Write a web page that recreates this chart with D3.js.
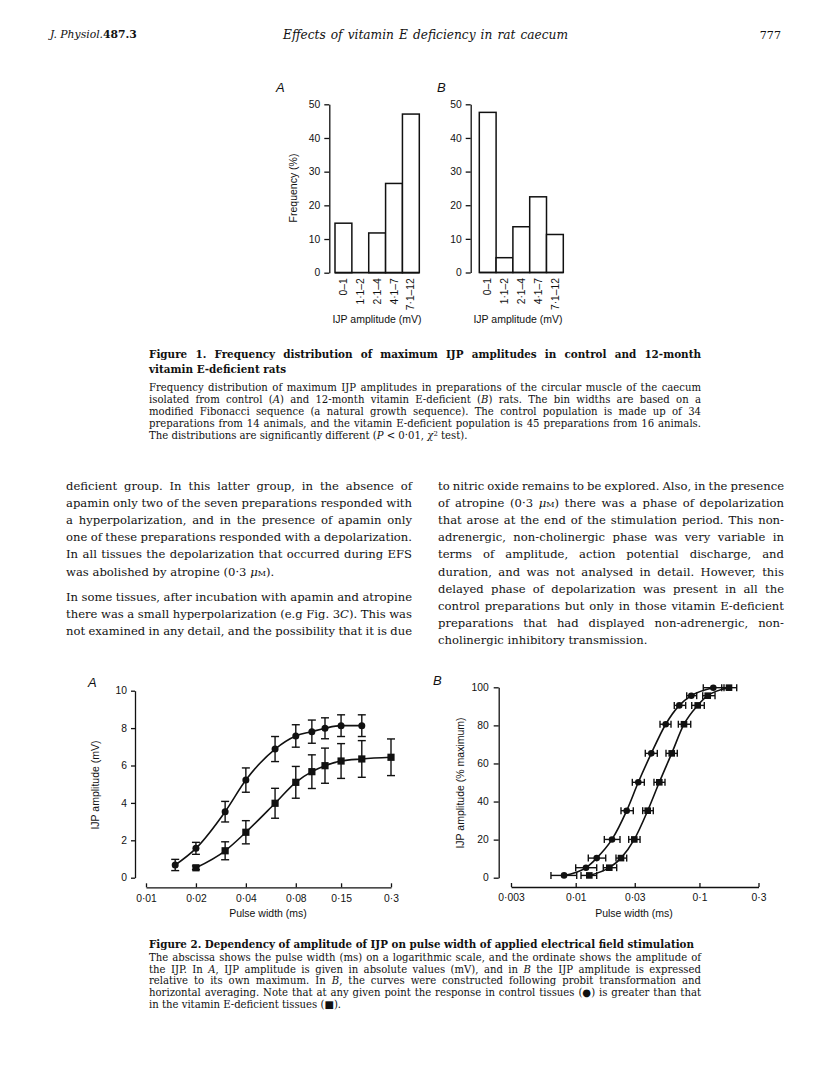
<!DOCTYPE html>
<html><head><meta charset="utf-8">
<script src="https://cdn.jsdelivr.net/npm/d3@7"></script>
<style>
html,body{margin:0;padding:0;background:#fff;}
#page{position:relative;width:816px;height:1088px;overflow:hidden;background:#fff;}
#page svg{position:absolute;left:0;top:0;}
.ln{position:absolute;white-space:nowrap;line-height:1;color:#111;font-family:"DejaVu Serif",serif;}
.ln sup{font-size:0.68em;vertical-align:0.5em;line-height:0;}
.sc{font-variant:small-caps;}
.ax text{font-family:"Liberation Sans",Arial,sans-serif;font-size:10.3px;fill:#111;}
.ax path,.ax line{stroke:#111;stroke-width:1.3;}
.lbl{font-family:"Liberation Sans",Arial,sans-serif;fill:#111;}
</style></head><body><div id="page"></div>
<script>
// ---------------- data ----------------
const fig1Bins = ["0–1","1·1–2","2·1–4","4·1–7","7·1–12"];
const fig1Control = [14.7, 0, 11.8, 26.5, 47.1];
const fig1Deficient = [47.6, 4.4, 13.6, 22.5, 11.3];
const fig1YTicks = [0, 10, 20, 30, 40, 50];

const fig2AControlPulse = [0.015, 0.02, 0.03, 0.04, 0.06, 0.08, 0.1, 0.12, 0.15, 0.2];
const fig2AControlAmp   = [0.68, 1.57, 3.53, 5.22, 6.88, 7.58, 7.81, 7.99, 8.13, 8.13];
const fig2AControlErr   = [0.30, 0.32, 0.55, 0.65, 0.67, 0.60, 0.62, 0.56, 0.58, 0.58];
const fig2ADefPulse = [0.02, 0.03, 0.04, 0.06, 0.08, 0.1, 0.12, 0.15, 0.2, 0.3];
const fig2ADefAmp   = [0.53, 1.44, 2.43, 3.98, 5.10, 5.67, 5.99, 6.24, 6.35, 6.44];
const fig2ADefErr   = [0.10, 0.48, 0.62, 0.80, 0.85, 0.90, 0.94, 0.93, 0.98, 0.98];
const fig2AXTicks = [0.01, 0.02, 0.04, 0.08, 0.15, 0.3];
const fig2AXLabels = ["0·01","0·02","0·04","0·08","0·15","0·3"];
const fig2AYTicks = [0, 2, 4, 6, 8, 10];

const fig2BAmp = [1.2, 5.25, 10.3, 20.1, 35.2, 50.1, 65.3, 80.6, 90.5, 95.6, 99.8];
const fig2BControlPulse = [0.00805, 0.01211, 0.01478, 0.01965, 0.02582, 0.03205, 0.04083, 0.05337, 0.06873, 0.0859, 0.1294];
const fig2BControlLo    = [0.00631, 0.0100, 0.01264, 0.01703, 0.02323, 0.02867, 0.0365, 0.0480, 0.0626, 0.0789, 0.1074];
const fig2BControlHi    = [0.01019, 0.01478, 0.01748, 0.0228, 0.0292, 0.03585, 0.04564, 0.0589, 0.0774, 0.0950, 0.1579];
const fig2BDefPulse = [0.01288, 0.01868, 0.02323, 0.02975, 0.03817, 0.04737, 0.05967, 0.0750, 0.0968, 0.1166, 0.1733];
const fig2BDefLo    = [0.01104, 0.01671, 0.02116, 0.0268, 0.03477, 0.0429, 0.05366, 0.0675, 0.0866, 0.1062, 0.1513];
const fig2BDefHi    = [0.01478, 0.02144, 0.02582, 0.0331, 0.04236, 0.05266, 0.0662, 0.0850, 0.1094, 0.1336, 0.2000];
const fig2BXTicks = [0.003, 0.01, 0.03, 0.1, 0.3];
const fig2BXLabels = ["0·003","0·01","0·03","0·1","0·3"];
const fig2BYTicks = [0, 20, 40, 60, 80, 100];

// ---------------- text ----------------
const fig1CaptionTitle = ["Figure 1. Frequency distribution of maximum IJP amplitudes in control and 12-month",
  "vitamin E-deficient rats"];
const fig1CaptionBody = [
  "Frequency distribution of maximum IJP amplitudes in preparations of the circular muscle of the caecum",
  "isolated from control (<i>A</i>) and 12-month vitamin E-deficient (<i>B</i>) rats. The bin widths are based on a",
  "modified Fibonacci sequence (a natural growth sequence). The control population is made up of 34",
  "preparations from 14 animals, and the vitamin E-deficient population is 45 preparations from 16 animals.",
  "The distributions are significantly different (<i>P</i> &lt; 0·01, <i>χ</i><sup>2</sup> test)."];
const leftCol1 = [
  "deficient group. In this latter group, in the absence of",
  "apamin only two of the seven preparations responded with",
  "a hyperpolarization, and in the presence of apamin only",
  "one of these preparations responded with a depolarization.",
  "In all tissues the depolarization that occurred during EFS",
  "was abolished by atropine (0·3 <i>μ</i><span class=\"sc\">m</span>)."];
const leftCol2 = [
  "In some tissues, after incubation with apamin and atropine",
  "there was a small hyperpolarization (e.g Fig. 3<i>C</i>). This was",
  "not examined in any detail, and the possibility that it is due"];
const rightCol = [
  "to nitric oxide remains to be explored. Also, in the presence",
  "of atropine (0·3 <i>μ</i><span class=\"sc\">m</span>) there was a phase of depolarization",
  "that arose at the end of the stimulation period. This non-",
  "adrenergic, non-cholinergic phase was very variable in",
  "terms of amplitude, action potential discharge, and",
  "duration, and was not analysed in detail. However, this",
  "delayed phase of depolarization was present in all the",
  "control preparations but only in those vitamin E-deficient",
  "preparations that had displayed non-adrenergic, non-",
  "cholinergic inhibitory transmission."];
const fig2CaptionTitle = "Figure 2. Dependency of amplitude of IJP on pulse width of applied electrical field stimulation";
const fig2CaptionBody = [
  "The abscissa shows the pulse width (ms) on a logarithmic scale, and the ordinate shows the amplitude of",
  "the IJP. In <i>A</i>, IJP amplitude is given in absolute values (mV), and in <i>B</i> the IJP amplitude is expressed",
  "relative to its own maximum. In <i>B</i>, the curves were constructed following probit transformation and",
  "horizontal averaging. Note that at any given point the response in control tissues (●) is greater than that",
  "in the vitamin E-deficient tissues (■)."];

// ---------------- page ----------------
const page = d3.select('#page');
const svg = page.append('svg').attr('width', 816).attr('height', 1088);
const INK = '#111';

function textLine(html, o) {
  const fs = o.fs || 11;
  const d = page.append('div').attr('class', 'ln')
    .style('font-size', fs + 'px')
    .style('font-weight', o.bold ? 'bold' : 'normal')
    .style('font-style', o.italic ? 'italic' : 'normal')
    .html(html);
  d.style('top', (o.baseline - 0.846 * fs) + 'px');
  const w = d.node().getBoundingClientRect().width;
  let left = o.x;
  if (o.align === 'justify') {
    const n = (d.node().textContent.match(/ /g) || []).length;
    if (n > 0) d.style('word-spacing', ((o.width - w) / n) + 'px');
  } else if (o.align === 'center') {
    left = o.x - w / 2;
  } else if (o.align === 'right') {
    left = o.x - w;
  }
  d.style('left', left + 'px');
  return d;
}

// header
textLine('<i>J. Physiol.</i><b>487.3</b>', {x: 50, baseline: 39, fs: 10.8});
textLine('Effects of vitamin E deficiency in rat caecum', {x: 283, baseline: 39, fs: 12.2, italic: true, align: 'justify', width: 285});
textLine('777', {x: 781, baseline: 39, fs: 11.2, align: 'right'});

// ---------------- Figure 1 ----------------
function fig1Panel(values, cfg) {
  const x = d3.scaleBand().domain(fig1Bins).range([cfg.x0, cfg.x1]).padding(0);
  const y = d3.scaleLinear().domain([0, 50]).range([cfg.yBottom, cfg.yTop]);
  const g = svg.append('g');
  g.selectAll('rect.bar').data(values).join('rect').attr('class', 'bar')
    .attr('x', (d, i) => x(fig1Bins[i])).attr('y', d => y(d))
    .attr('width', x.bandwidth()).attr('height', d => y(0) - y(d))
    .attr('fill', '#fff').attr('stroke', INK).attr('stroke-width', 1.5);
  g.append('line').attr('x1', cfg.x0).attr('x2', cfg.x1).attr('y1', y(0)).attr('y2', y(0))
    .attr('stroke', INK).attr('stroke-width', 1.7);
  g.append('g').attr('class', 'ax').attr('transform', `translate(${cfg.axisX},0)`)
    .call(d3.axisLeft(y).tickValues(fig1YTicks).tickSize(5).tickPadding(4).tickSizeOuter(0));
  g.selectAll('text.bin').data(fig1Bins).join('text').attr('class', 'lbl bin')
    .attr('transform', d => `translate(${x(d) + x.bandwidth() / 2},${y(0) + 5.5}) rotate(-90)`)
    .attr('text-anchor', 'end').attr('dy', '0.35em').style('font-size', '10.3px').text(d => d);
  g.append('text').attr('class', 'lbl').attr('x', cfg.titleX).attr('y', 322.5)
    .attr('text-anchor', 'middle').style('font-size', '10.5px').text('IJP amplitude (mV)');
  g.append('text').attr('class', 'lbl').attr('x', cfg.letterX).attr('y', 91.5)
    .style('font-size', '13px').style('font-style', 'italic').text(cfg.letter);
  if (cfg.yTitle) {
    g.append('text').attr('class', 'lbl')
      .attr('transform', `translate(293,188) rotate(-90)`).attr('dy', '0.35em')
      .attr('text-anchor', 'middle').style('font-size', '10.5px').text(cfg.yTitle);
  }
}
fig1Panel(fig1Control, {x0: 335, x1: 419.3, yTop: 104.3, yBottom: 272.7, axisX: 329.3, titleX: 377, letterX: 276, letter: 'A', yTitle: 'Frequency (%)'});
fig1Panel(fig1Deficient, {x0: 479.3, x1: 563.3, yTop: 104.3, yBottom: 272.5, axisX: 470.7, titleX: 518, letterX: 437, letter: 'B'});

// Figure 1 caption
textLine(fig1CaptionTitle[0], {x: 149, baseline: 358, fs: 10.4, bold: true, align: 'justify', width: 552});
textLine(fig1CaptionTitle[1], {x: 149, baseline: 373, fs: 10.4, bold: true});
fig1CaptionBody.forEach((t, i) => {
  const last = i === fig1CaptionBody.length - 1;
  textLine(t, {x: 149, baseline: 391.5 + i * 12, fs: 10.1, align: last ? 'left' : 'justify', width: 552});
});

// Body text
const BODY_FS = 11.6;
leftCol1.forEach((t, i) => {
  const last = i === leftCol1.length - 1;
  textLine(t, {x: 66, baseline: 490.5 + i * 17.2, fs: BODY_FS, align: last ? 'left' : 'justify', width: 346});
});
leftCol2.forEach((t, i) => {
  textLine(t, {x: 66, baseline: 601.5 + i * 17.2, fs: BODY_FS, align: 'justify', width: 346});
});
rightCol.forEach((t, i) => {
  const last = i === rightCol.length - 1;
  textLine(t, {x: 438, baseline: 490.5 + i * 17.2, fs: BODY_FS, align: last ? 'left' : 'justify', width: 346});
});

// ---------------- Figure 2 ----------------
function square(g, cx, cy, s) {
  g.append('rect').attr('x', cx - s / 2).attr('y', cy - s / 2).attr('width', s).attr('height', s).attr('fill', INK);
}

// Panel A
(function () {
  const x = d3.scaleLog().domain([0.01, 0.3]).range([146, 391]);
  const y = d3.scaleLinear().domain([0, 10]).range([877.7, 690.7]);
  const g = svg.append('g');
  g.append('g').attr('class', 'ax').attr('transform', 'translate(135,0)')
    .call(d3.axisLeft(y).tickValues(fig2AYTicks).tickFormat(d3.format('d')).tickSize(4).tickPadding(4).tickSizeOuter(0));
  g.append('g').attr('class', 'ax').attr('transform', 'translate(0,887.3)')
    .call(d3.axisBottom(x).tickValues(fig2AXTicks).tickFormat((d, i) => fig2AXLabels[i]).tickSizeInner(-4).tickSizeOuter(0).tickPadding(7));
  const line = d3.line().curve(d3.curveMonotoneX).x(d => x(d[0])).y(d => y(d[1]));
  const series = [
    {px: fig2AControlPulse, amp: fig2AControlAmp, err: fig2AControlErr, shape: 'c'},
    {px: fig2ADefPulse, amp: fig2ADefAmp, err: fig2ADefErr, shape: 's'}];
  series.forEach(s => {
    const pts = s.px.map((p, i) => [p, s.amp[i]]);
    g.append('path').attr('d', line(pts)).attr('fill', 'none').attr('stroke', INK).attr('stroke-width', 1.6);
    pts.forEach((p, i) => {
      const cx = x(p[0]), y1 = y(p[1] - s.err[i]), y2 = y(p[1] + s.err[i]);
      g.append('line').attr('x1', cx).attr('x2', cx).attr('y1', y1).attr('y2', y2).attr('stroke', INK).attr('stroke-width', 1.4);
      [y1, y2].forEach(yy => g.append('line').attr('x1', cx - 4).attr('x2', cx + 4).attr('y1', yy).attr('y2', yy).attr('stroke', INK).attr('stroke-width', 1.4));
      if (s.shape === 'c') g.append('circle').attr('cx', cx).attr('cy', y(p[1])).attr('r', 3.5).attr('fill', INK);
      else square(g, cx, y(p[1]), 7.2);
    });
  });
  g.append('text').attr('class', 'lbl').attr('x', 88).attr('y', 686.5).style('font-size', '13px').style('font-style', 'italic').text('A');
  g.append('text').attr('class', 'lbl').attr('transform', 'translate(95,785) rotate(-90)').attr('dy', '0.35em')
    .attr('text-anchor', 'middle').style('font-size', '10.5px').text('IJP amplitude (mV)');
  g.append('text').attr('class', 'lbl').attr('x', 268).attr('y', 916.5).attr('text-anchor', 'middle').style('font-size', '10.5px').text('Pulse width (ms)');
})();

// Panel B
(function () {
  const x = d3.scaleLog().domain([0.003, 0.3]).range([511, 758.5]);
  const y = d3.scaleLinear().domain([0, 100]).range([877.7, 687.3]);
  const g = svg.append('g');
  g.append('g').attr('class', 'ax').attr('transform', 'translate(498.7,0)')
    .call(d3.axisLeft(y).tickValues(fig2BYTicks).tickFormat(d3.format('d')).tickSize(5).tickPadding(5).tickSizeOuter(0));
  g.append('g').attr('class', 'ax').attr('transform', 'translate(0,887)')
    .call(d3.axisBottom(x).tickValues(fig2BXTicks).tickFormat((d, i) => fig2BXLabels[i]).tickSizeInner(-4).tickSizeOuter(0).tickPadding(7));
  const line = d3.line().curve(d3.curveMonotoneX).x(d => x(d[0])).y(d => y(d[1]));
  const series = [
    {px: fig2BControlPulse, lo: fig2BControlLo, hi: fig2BControlHi, shape: 'c'},
    {px: fig2BDefPulse, lo: fig2BDefLo, hi: fig2BDefHi, shape: 's'}];
  series.forEach(s => {
    const pts = s.px.map((p, i) => [p, fig2BAmp[i]]);
    g.append('path').attr('d', line(pts)).attr('fill', 'none').attr('stroke', INK).attr('stroke-width', 1.6);
    pts.forEach((p, i) => {
      const cy = y(p[1]), x1 = x(s.lo[i]), x2 = x(s.hi[i]);
      g.append('line').attr('x1', x1).attr('x2', x2).attr('y1', cy).attr('y2', cy).attr('stroke', INK).attr('stroke-width', 1.4);
      [x1, x2].forEach(xx => g.append('line').attr('x1', xx).attr('x2', xx).attr('y1', cy - 3.5).attr('y2', cy + 3.5).attr('stroke', INK).attr('stroke-width', 1.4));
      if (s.shape === 'c') g.append('circle').attr('cx', x(p[0])).attr('cy', cy).attr('r', 3.3).attr('fill', INK);
      else square(g, x(p[0]), cy, 6.6);
    });
  });
  g.append('text').attr('class', 'lbl').attr('x', 433).attr('y', 685).style('font-size', '13px').style('font-style', 'italic').text('B');
  g.append('text').attr('class', 'lbl').attr('transform', 'translate(460,783) rotate(-90)').attr('dy', '0.35em')
    .attr('text-anchor', 'middle').style('font-size', '10.5px').text('IJP amplitude (% maximum)');
  g.append('text').attr('class', 'lbl').attr('x', 634).attr('y', 916.5).attr('text-anchor', 'middle').style('font-size', '10.5px').text('Pulse width (ms)');
})();

// Figure 2 caption
textLine(fig2CaptionTitle, {x: 149, baseline: 947.5, fs: 10.3, bold: true});
fig2CaptionBody.forEach((t, i) => {
  const last = i === fig2CaptionBody.length - 1;
  textLine(t, {x: 149, baseline: 961.5 + i * 11.7, fs: 10.1, align: last ? 'left' : 'justify', width: 552});
});
</script></body></html>
